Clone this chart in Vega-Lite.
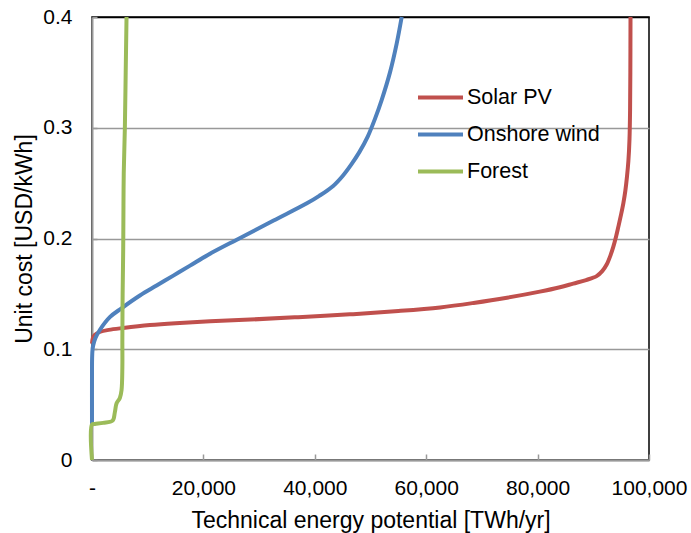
{
  "$schema": "https://vega.github.io/schema/vega-lite/v6.json",
  "width": 557,
  "height": 443,
  "autosize": {"type": "none"},
  "padding": {"left": 92, "top": 17, "right": 42, "bottom": 73},
  "background": "white",
  "config": {"view": {"stroke": "#000", "strokeWidth": 1.5}, "font": "Liberation Sans"},
  "data": {"values": [
    {"resource": "Solar PV", "energy": 0, "cost": 0.105},
    {"resource": "Solar PV", "energy": 150, "cost": 0.110},
    {"resource": "Solar PV", "energy": 500, "cost": 0.1130},
    {"resource": "Solar PV", "energy": 1500, "cost": 0.1158},
    {"resource": "Solar PV", "energy": 3000, "cost": 0.1175},
    {"resource": "Solar PV", "energy": 5600, "cost": 0.1192},
    {"resource": "Solar PV", "energy": 10400, "cost": 0.1218},
    {"resource": "Solar PV", "energy": 15000, "cost": 0.1235},
    {"resource": "Solar PV", "energy": 21200, "cost": 0.1252},
    {"resource": "Solar PV", "energy": 28400, "cost": 0.1268},
    {"resource": "Solar PV", "energy": 37000, "cost": 0.1290},
    {"resource": "Solar PV", "energy": 46300, "cost": 0.1315},
    {"resource": "Solar PV", "energy": 55000, "cost": 0.1345},
    {"resource": "Solar PV", "energy": 62500, "cost": 0.1378},
    {"resource": "Solar PV", "energy": 68500, "cost": 0.1418},
    {"resource": "Solar PV", "energy": 74500, "cost": 0.1465},
    {"resource": "Solar PV", "energy": 80400, "cost": 0.1520},
    {"resource": "Solar PV", "energy": 84000, "cost": 0.1560},
    {"resource": "Solar PV", "energy": 86400, "cost": 0.1593},
    {"resource": "Solar PV", "energy": 88700, "cost": 0.1625},
    {"resource": "Solar PV", "energy": 90600, "cost": 0.1660},
    {"resource": "Solar PV", "energy": 91600, "cost": 0.1705},
    {"resource": "Solar PV", "energy": 92400, "cost": 0.1765},
    {"resource": "Solar PV", "energy": 93100, "cost": 0.1850},
    {"resource": "Solar PV", "energy": 93600, "cost": 0.1926},
    {"resource": "Solar PV", "energy": 94100, "cost": 0.2020},
    {"resource": "Solar PV", "energy": 94500, "cost": 0.2107},
    {"resource": "Solar PV", "energy": 95000, "cost": 0.2220},
    {"resource": "Solar PV", "energy": 95400, "cost": 0.2320},
    {"resource": "Solar PV", "energy": 95750, "cost": 0.2430},
    {"resource": "Solar PV", "energy": 96050, "cost": 0.2560},
    {"resource": "Solar PV", "energy": 96300, "cost": 0.2700},
    {"resource": "Solar PV", "energy": 96500, "cost": 0.2900},
    {"resource": "Solar PV", "energy": 96600, "cost": 0.3150},
    {"resource": "Solar PV", "energy": 96650, "cost": 0.3500},
    {"resource": "Solar PV", "energy": 96680, "cost": 0.4000},
    {"resource": "Onshore wind", "energy": 0, "cost": 0.031},
    {"resource": "Onshore wind", "energy": 0, "cost": 0.080},
    {"resource": "Onshore wind", "energy": 20, "cost": 0.092},
    {"resource": "Onshore wind", "energy": 100, "cost": 0.100},
    {"resource": "Onshore wind", "energy": 240, "cost": 0.104},
    {"resource": "Onshore wind", "energy": 600, "cost": 0.110},
    {"resource": "Onshore wind", "energy": 1400, "cost": 0.1174},
    {"resource": "Onshore wind", "energy": 3200, "cost": 0.129},
    {"resource": "Onshore wind", "energy": 5300, "cost": 0.137},
    {"resource": "Onshore wind", "energy": 8600, "cost": 0.1485},
    {"resource": "Onshore wind", "energy": 11600, "cost": 0.1575},
    {"resource": "Onshore wind", "energy": 14600, "cost": 0.1665},
    {"resource": "Onshore wind", "energy": 17600, "cost": 0.1755},
    {"resource": "Onshore wind", "energy": 20800, "cost": 0.1852},
    {"resource": "Onshore wind", "energy": 26600, "cost": 0.2005},
    {"resource": "Onshore wind", "energy": 32600, "cost": 0.2162},
    {"resource": "Onshore wind", "energy": 38500, "cost": 0.2315},
    {"resource": "Onshore wind", "energy": 40800, "cost": 0.2385},
    {"resource": "Onshore wind", "energy": 43300, "cost": 0.2475},
    {"resource": "Onshore wind", "energy": 45000, "cost": 0.2565},
    {"resource": "Onshore wind", "energy": 46500, "cost": 0.2665},
    {"resource": "Onshore wind", "energy": 48000, "cost": 0.278},
    {"resource": "Onshore wind", "energy": 49500, "cost": 0.292},
    {"resource": "Onshore wind", "energy": 50800, "cost": 0.308},
    {"resource": "Onshore wind", "energy": 52000, "cost": 0.325},
    {"resource": "Onshore wind", "energy": 53500, "cost": 0.350},
    {"resource": "Onshore wind", "energy": 54700, "cost": 0.376},
    {"resource": "Onshore wind", "energy": 55600, "cost": 0.400},
    {"resource": "Forest", "energy": 0, "cost": 0.0},
    {"resource": "Forest", "energy": 0, "cost": 0.032},
    {"resource": "Forest", "energy": 500, "cost": 0.0325},
    {"resource": "Forest", "energy": 2000, "cost": 0.0335},
    {"resource": "Forest", "energy": 3700, "cost": 0.0355},
    {"resource": "Forest", "energy": 4100, "cost": 0.043},
    {"resource": "Forest", "energy": 4400, "cost": 0.051},
    {"resource": "Forest", "energy": 5000, "cost": 0.056},
    {"resource": "Forest", "energy": 5300, "cost": 0.063},
    {"resource": "Forest", "energy": 5450, "cost": 0.084},
    {"resource": "Forest", "energy": 5450, "cost": 0.108},
    {"resource": "Forest", "energy": 5500, "cost": 0.150},
    {"resource": "Forest", "energy": 5600, "cost": 0.190},
    {"resource": "Forest", "energy": 5650, "cost": 0.230},
    {"resource": "Forest", "energy": 5700, "cost": 0.259},
    {"resource": "Forest", "energy": 5900, "cost": 0.300},
    {"resource": "Forest", "energy": 6050, "cost": 0.350},
    {"resource": "Forest", "energy": 6200, "cost": 0.400}
  ]},
  "mark": {"type": "line", "strokeWidth": 4, "strokeJoin": "round", "interpolate": "catmull-rom"},
  "encoding": {
    "x": {
      "field": "energy", "type": "quantitative",
      "scale": {"domain": [0, 100000], "nice": false, "zero": true},
      "axis": {
        "title": "Technical energy potential [TWh/yr]",
        "values": [0, 20000, 40000, 60000, 80000, 100000],
        "labelExpr": "datum.value == 0 ? '-' : format(datum.value, ',')",
        "grid": false,
        "domainColor": "#999999", "domainWidth": 2,
        "tickColor": "#999999", "tickWidth": 1.5, "tickSize": -6,
        "labelFontSize": 21, "labelColor": "#000", "labelPadding": 23, "labelFlush": false,
        "titleFontSize": 23, "titleFontWeight": "normal", "titleColor": "#000", "titlePadding": 11
      }
    },
    "y": {
      "field": "cost", "type": "quantitative",
      "scale": {"domain": [0, 0.4], "nice": false},
      "axis": {
        "title": "Unit cost [USD/kWh]",
        "values": [0, 0.1, 0.2, 0.3, 0.4],
        "labelExpr": "datum.value == 0 ? '0' : format(datum.value, '.1f')",
        "grid": true,
        "gridColor": {"condition": {"test": "datum.value >= 0.39", "value": "#000000"}, "value": "#999999"},
        "gridWidth": 1.5,
        "domainColor": "#999999", "domainWidth": 2,
        "tickColor": "#999999", "tickWidth": 1.5, "tickSize": -5,
        "labelFontSize": 21, "labelColor": "#000", "labelPadding": 25, "labelFlush": false,
        "titleFontSize": 23, "titleFontWeight": "normal", "titleColor": "#000", "titlePadding": 6
      }
    },
    "color": {
      "field": "resource", "type": "nominal",
      "scale": {"domain": ["Solar PV", "Onshore wind", "Forest"], "range": ["#C0504D", "#4F81BD", "#9BBB59"]},
      "legend": {
        "orient": "none", "legendX": 324, "legendY": 68, "title": null,
        "symbolType": "stroke", "symbolSize": 2025, "symbolStrokeWidth": 4,
        "labelFontSize": 21.5, "labelColor": "#000", "labelOffset": 2,
        "clipHeight": 25, "rowPadding": 12
      }
    },
    "order": {"field": "cost", "type": "quantitative"}
  }
}
